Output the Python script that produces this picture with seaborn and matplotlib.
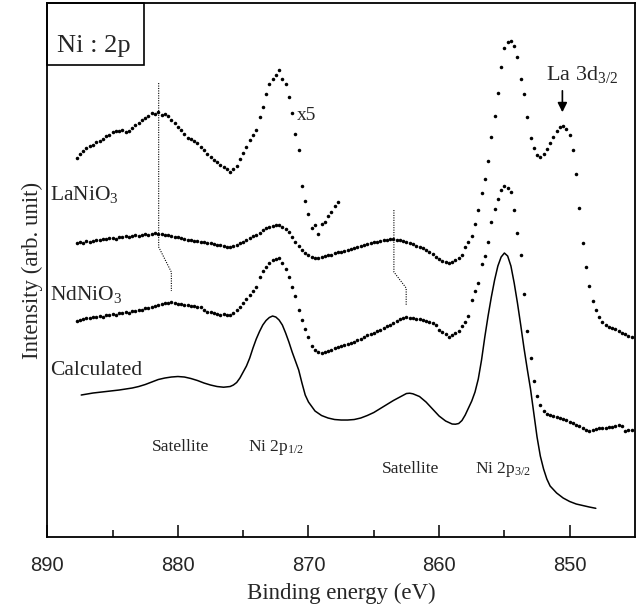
import numpy as np
import pandas as pd
import matplotlib
matplotlib.use('agg')
import matplotlib.pyplot as plt
import seaborn as sns
from matplotlib.patches import Rectangle

# measured scans: first point and step of the energy grid (eV)
scan_start = 887.75
scan_step = 0.25

# LaNiO3, Ni 2p1/2 region magnified x5 (arb. units)
lanio3_x5 = [379, 383, 386, 389, 391, 392, 395, 396, 398, 401,
             402, 405, 406, 406, 407, 405, 406, 409, 412, 414,
             417, 419, 421, 424, 423, 425, 422, 423, 421, 417,
             414, 410, 407, 403, 399, 398, 396, 394, 390, 387,
             383, 380, 377, 375, 372, 370, 368, 365, 368, 371,
             378, 384, 390, 397, 402, 407, 420, 430, 443, 453,
             458, 462, 467, 458, 453, 440, 424, 403, 387, 351,
             336, 323, 309, 312, 303, 313, 315, 321, 325, 331,
             335]

# LaNiO3 (arb. units)
lanio3 = [294, 295, 294, 296, 295, 296, 297, 297, 298, 298,
          299, 299, 298, 300, 300, 301, 300, 301, 302, 301,
          302, 303, 302, 303, 304, 303, 303, 302, 302, 301,
          300, 300, 299, 298, 297, 297, 296, 296, 295, 295,
          294, 294, 293, 292, 292, 291, 290, 290, 291, 292,
          294, 295, 297, 299, 301, 302, 304, 307, 309, 310,
          311, 312, 312, 310, 308, 305, 300, 295, 291, 287,
          284, 282, 280, 279, 279, 280, 281, 282, 282, 284,
          285, 285, 286, 287, 288, 289, 290, 291, 292, 293,
          294, 295, 295, 296, 297, 297, 298, 298, 297, 297,
          296, 295, 294, 293, 291, 290, 289, 287, 285, 283,
          280, 278, 276, 275, 274, 275, 277, 279, 282, 290,
          295, 301, 313, 327, 344, 358, 376, 400, 421, 444,
          470, 489, 495, 496, 491, 480, 458, 443, 420, 399,
          389, 382, 380, 383, 388, 394, 400, 406, 410, 411,
          408, 402, 387, 363, 329, 294, 270, 251, 236, 227,
          220, 215, 212, 210, 209, 208, 206, 204, 203, 201,
          200]

# NdNiO3 (arb. units)
ndnio3 = [216, 217, 218, 219, 219, 220, 220, 221, 220, 222,
          222, 223, 222, 224, 224, 225, 224, 226, 226, 227,
          227, 229, 229, 230, 231, 232, 233, 234, 234, 235,
          234, 233, 233, 232, 232, 231, 231, 230, 230, 227,
          225, 225, 224, 223, 222, 223, 222, 222, 224, 227,
          230, 234, 238, 242, 246, 250, 260, 266, 270, 274,
          277, 278, 279, 274, 268, 260, 250, 241, 227, 217,
          208, 200, 191, 187, 185, 184, 185, 186, 187, 189,
          190, 191, 192, 193, 194, 195, 197, 198, 200, 202,
          203, 204, 206, 207, 209, 211, 212, 214, 216, 218,
          219, 220, 219, 219, 218, 218, 217, 216, 215, 214,
          212, 207, 205, 203, 200, 202, 204, 206, 211, 215,
          221, 237, 246, 254, 273, 281, 295, 315, 328, 338,
          347, 351, 349, 345, 327, 304, 282, 243, 206, 179,
          156, 141, 132, 126, 123, 122, 121, 120, 119, 118,
          117, 115, 114, 112, 111, 109, 107, 106, 107, 108,
          109, 109, 109, 110, 110, 111, 112, 111, 106, 107,
          107]

# calculated spectrum
calc_energy = [887.4, 886.5, 885.5, 884.5, 883.5, 883.0, 882.5, 882.0, 881.5, 881.0,
               880.5, 880.0, 879.5, 879.0, 878.5, 878.0, 877.5, 877.0, 876.5, 876.0,
               875.75, 875.5, 875.25, 875.0, 874.75, 874.5, 874.25, 874.0, 873.75, 873.5,
               873.25, 873.0, 872.75, 872.5, 872.25, 872.0, 871.75, 871.5, 871.25, 871.0,
               870.75, 870.5, 870.25, 870.0, 869.5, 869.0, 868.5, 868.0, 867.5, 867.0,
               866.5, 866.0, 865.5, 865.0, 864.5, 864.0, 863.5, 863.0, 862.5, 862.25,
               862.0, 861.5, 861.0, 860.5, 860.0, 859.5, 859.0, 858.75, 858.5, 858.25,
               858.0, 857.75, 857.5, 857.25, 857.0, 856.75, 856.5, 856.25, 856.0, 855.75,
               855.5, 855.25, 855.0, 854.75, 854.5, 854.25, 854.0, 853.75, 853.5, 853.25,
               853.0, 852.75, 852.5, 852.25, 852.0, 851.75, 851.5, 851.0, 850.5, 850.0,
               849.5, 849.0, 848.5, 848.0]
calc_intensity = [142, 144, 145.5, 147, 149, 150.5, 152.5, 155, 157.5, 159,
                  160, 160.5, 160, 158.5, 156.5, 154, 152, 150.5, 149.8, 150.5,
                  152, 154.5, 159, 165, 171, 179, 189, 198, 205.5, 212,
                  216.5, 219.5, 221, 220, 217, 212, 204, 195, 185, 176,
                  167, 154, 142, 135, 126, 121.5, 119, 117.5, 117, 117,
                  117.5, 119, 121.5, 124.5, 128.5, 132.5, 136.5, 140, 143.5, 143.8,
                  143.2, 140.5, 135, 128, 121, 116, 113, 112.8, 113.5, 116.5,
                  122, 129, 136, 145, 158, 177, 200, 221, 240, 257,
                  271, 280, 284, 281, 271, 254, 234, 212, 189, 168,
                  148, 124, 100, 81, 68, 58, 51, 44, 39, 35.5,
                  33, 31.5, 30, 28.7]

# dotted guides linking the satellite positions
guide1_energy = [881.47, 881.47, 880.5, 880.5]
guide1_intensity = [454, 290, 265, 246]
guide2_energy = [863.46, 863.46, 862.52, 862.52]
guide2_intensity = [327, 265, 249, 231]


def scan_frame(values):
    energy = scan_start - scan_step * np.arange(len(values))
    return pd.DataFrame({'energy': energy, 'intensity': values})


sns.set_style('white')
plt.rcParams['font.family'] = ['Liberation Serif', 'DejaVu Serif']
plt.rcParams['mathtext.fontset'] = 'custom'
plt.rcParams['mathtext.rm'] = 'Liberation Serif'
plt.rcParams['mathtext.it'] = 'Liberation Serif:italic'

fig = plt.figure(figsize=(6.38, 6.07), dpi=100)
ax = fig.add_axes([0.0741, 0.1153, 0.9212, 0.8797])

for vals in (lanio3_x5, lanio3, ndnio3):
    sns.scatterplot(data=scan_frame(vals), x='energy', y='intensity',
                    s=6.5, color='black', linewidth=0, ax=ax)

calc = pd.DataFrame({'energy': calc_energy, 'intensity': calc_intensity})
sns.lineplot(data=calc, x='energy', y='intensity', color='black', lw=1.1,
             estimator=None, sort=False, ax=ax)

for ge, gi in ((guide1_energy, guide1_intensity), (guide2_energy, guide2_intensity)):
    g = pd.DataFrame({'energy': ge, 'intensity': gi})
    sns.lineplot(data=g, x='energy', y='intensity', color='black', lw=0.8,
                 linestyle=(0, (1, 1.2)), estimator=None, sort=False, ax=ax)

ax.set_xlim(890, 845)
ax.set_ylim(0, 534)
ax.set_yticks([])
ax.set_xticks([890, 880, 870, 860, 850])
ax.set_xticks([885, 875, 865, 855], minor=True)
ax.tick_params(axis='x', which='major', bottom=True, top=False, direction='in',
               length=9, width=1.1, pad=14, labelsize=14.5, color='black')
ax.tick_params(axis='x', which='minor', bottom=True, top=False, direction='in',
               length=5, width=1.1, color='black')
for lab in ax.get_xticklabels():
    lab.set_family('Liberation Sans')
for sp in ax.spines.values():
    sp.set_linewidth(1.3)
    sp.set_color('black')

ax.set_xlabel('Binding energy (eV)', fontsize=16.5, labelpad=5)
ax.set_ylabel('Intensity (arb. unit)', fontsize=16.5, labelpad=3)

# label box in the corner
ax.add_patch(Rectangle((0, 0.884), 0.1645, 0.116, transform=ax.transAxes,
                       fill=False, lw=1.2, ec='black', clip_on=False))
ax.text(0.0795, 0.908, 'Ni : 2p', transform=ax.transAxes, fontsize=19,
        ha='center', va='baseline')

ax.text(870.86, 417, 'x5', fontsize=14, ha='left', va='baseline')
ax.text(889.8, 337, 'LaNiO$_3$', fontsize=15.5, ha='left', va='baseline')
ax.text(889.8, 237, 'NdNiO$_3$', fontsize=15.5, ha='left', va='baseline')
ax.text(889.8, 162, 'Calculated', fontsize=15.5, ha='left', va='baseline')
ax.text(879.8, 86, 'Satellite', fontsize=12.5, ha='center', va='baseline')
ax.text(874.66, 86, 'Ni 2p$_{1/2}$', fontsize=12.5, ha='left', va='baseline')
ax.text(862.2, 64, 'Satellite', fontsize=12.5, ha='center', va='baseline')
ax.text(857.25, 64, 'Ni 2p$_{3/2}$', fontsize=12.5, ha='left', va='baseline')
ax.text(851.83, 457, 'La 3d$_{3/2}$', fontsize=16, ha='left', va='baseline')
ax.annotate('', xy=(850.56, 422), xytext=(850.56, 449),
            arrowprops=dict(arrowstyle='-|>', lw=1.2, color='black',
                            mutation_scale=14))

fig.savefig('out.png', dpi=100)
